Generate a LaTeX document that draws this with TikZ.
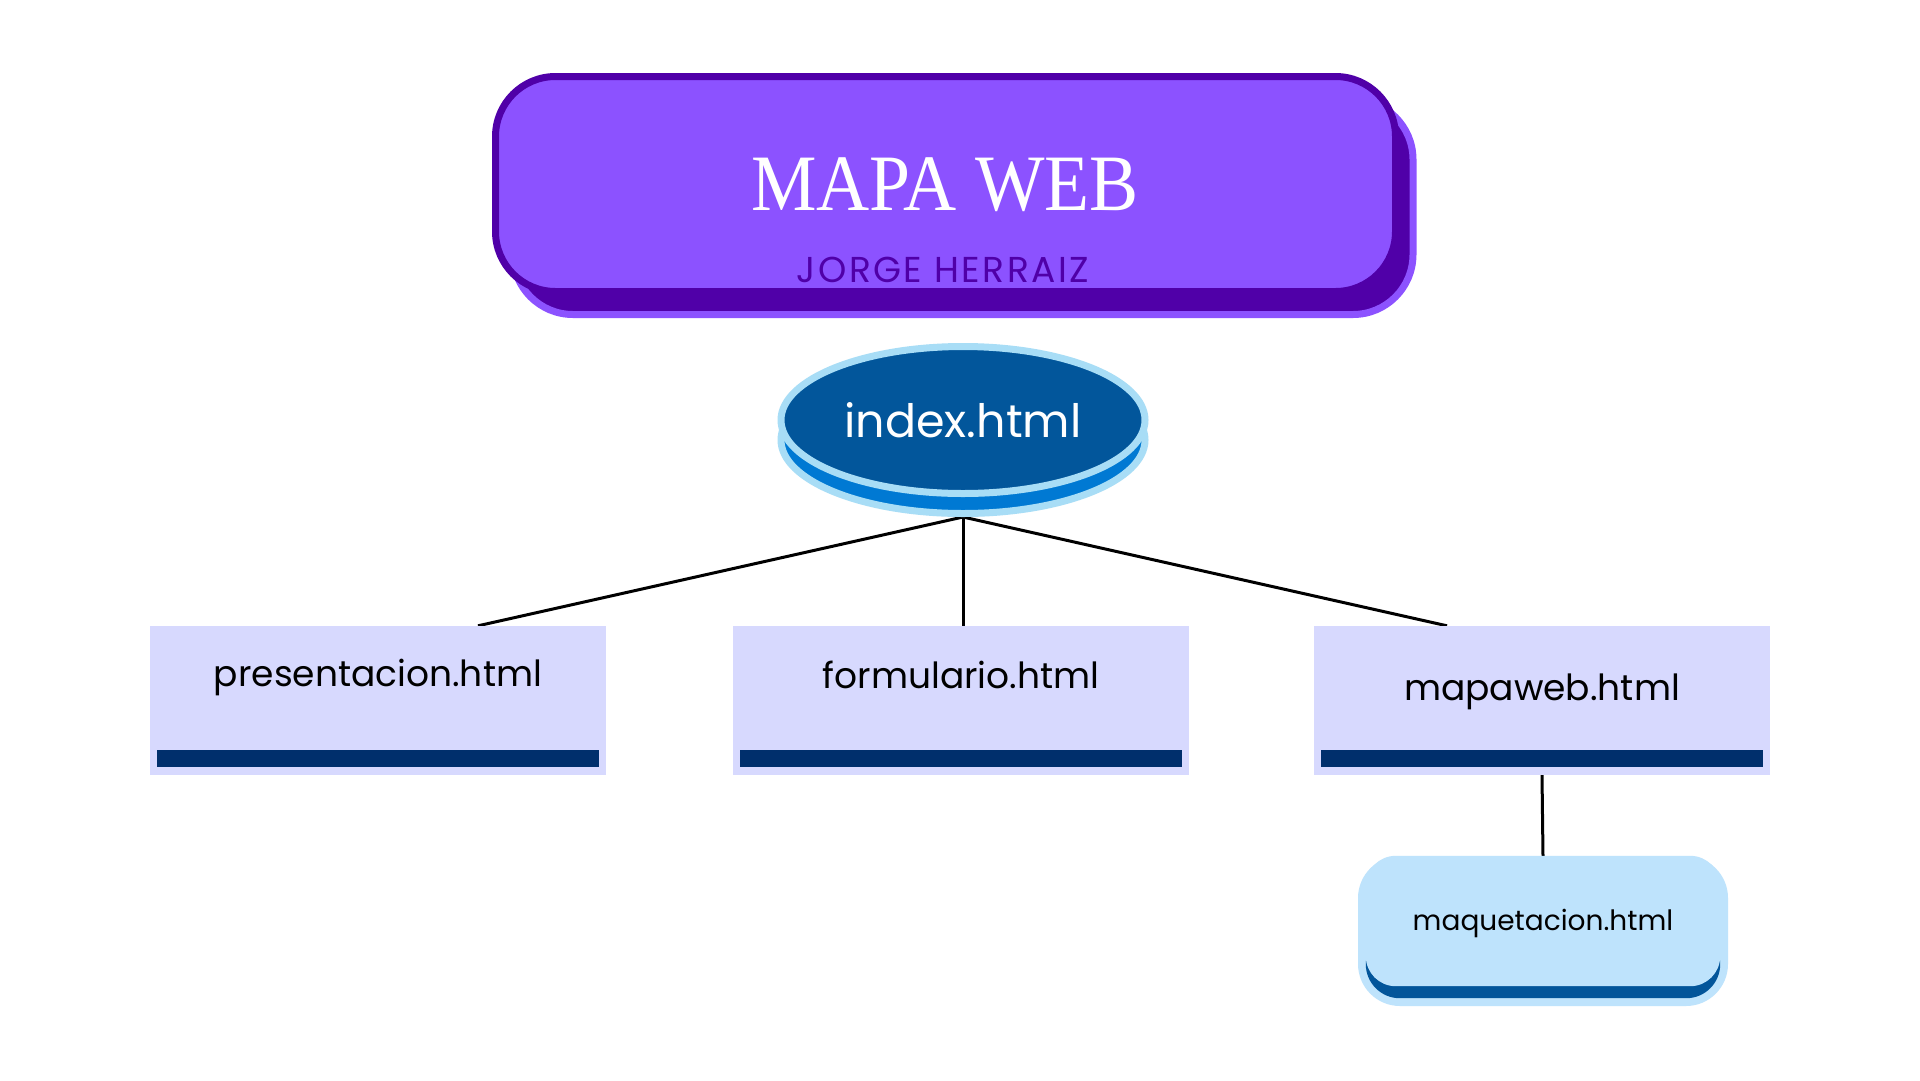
\documentclass[tikz,border=0pt]{standalone}
\usepackage{fontspec}
\setmainfont{Poppins}
\newfontfamily\titlefont[FakeStretch=0.92]{Liberation Serif}
\newfontfamily\autorfont[LetterSpace=7]{Poppins}
\usetikzlibrary{shapes,backgrounds,positioning}

\definecolor{lila}{HTML}{8C52FF}
\definecolor{morado}{HTML}{5000A8}
\definecolor{celeste}{HTML}{A8DDF6}
\definecolor{azul}{HTML}{0079D3}
\definecolor{azulosc}{HTML}{02569B}
\definecolor{lavanda}{HTML}{D7D9FE}
\definecolor{marino}{HTML}{002F6C}
\definecolor{cielo}{HTML}{BEE3FC}
\definecolor{franja}{HTML}{02559A}

\tikzset{
  titlebox/.style={rectangle,rounded corners=60pt,minimum width=900pt,minimum height=215pt,line width=7pt,inner sep=0pt},
  disco/.style={ellipse,draw=celeste,line width=7pt,minimum width=364pt,minimum height=147pt,inner sep=0pt},
  pagebox/.style={rectangle,fill=lavanda,minimum width=456pt,minimum height=149pt,inner sep=0pt},
  bar/.style={fill=marino},
  link/.style={draw=black,line width=3pt},
  lbl/.style={anchor=base,inner sep=0pt,font=\fontsize{36}{40}\selectfont}
}

\begin{document}
\begin{tikzpicture}[x=1pt,y=-1pt]
  \useasboundingbox (0,0) rectangle (1920,1080);
  % titulo
  \node[titlebox,draw=lila,fill=morado] (tback) at (963,207) {};
  \node[titlebox,draw=morado,fill=lila] (tfront) at (945.5,184) {};
  \node[anchor=base,inner sep=0pt,text=white,font=\titlefont\fontsize{80}{90}\selectfont] (titulo) at (945,210) {MAPA WEB};
  \node[anchor=base,inner sep=0pt,text=morado,font=\autorfont\fontsize{36}{40}\selectfont] (autor) at (943,282) {JORGE HERRAIZ};
  % index
  \node[disco,fill=azul] (idx) at (963,440) {};
  \node[disco,fill=azulosc] (idxtop) at (963,420) {};
  \node[anchor=base,inner sep=0pt,text=white,font=\fontsize{46}{50}\selectfont] (idx-t) at (963,437) {index.html};
  % paginas
  \foreach \n/\x/\y/\t in {pres/378/686/presentacion.html, form/961/688/formulario.html, map/1542/700/mapaweb.html}{
    \node[pagebox] (\n) at (\x,700.5) {};
    \fill[bar] ([xshift=7pt,yshift=8pt]\n.south west) rectangle ([xshift=-7pt,yshift=25pt]\n.south east);
    \node[lbl] (\n-t) at (\x,\y) {\t};
  }
  % maquetacion
  \node[rectangle,rounded corners=42pt,fill=cielo,minimum width=370pt,minimum height=150pt,inner sep=0pt] (maq) at (1543,931) {};
  \fill[franja,rounded corners=34pt] ([xshift=8pt,yshift=8pt]maq.south west) rectangle ([xshift=-8pt,yshift=76pt]maq.south east);
  \fill[cielo,rounded corners=30pt] ([xshift=8pt,yshift=20pt]maq.south west) rectangle ([xshift=-8pt]maq.north east);
  \node[anchor=base,inner sep=0pt,font=\fontsize{28}{32}\selectfont] (maq-t) at (1543,930) {maquetacion.html};
  % enlaces
  \begin{scope}[on background layer]
    \fill[white] (0,0) rectangle (1920,1080);
    \draw[link] (idx.south) -- ([xshift=100pt]pres.north);
    \draw[link] (idx.south) -- (idx.south |- form.north);
    \draw[link] (idx.south) -- ([xshift=-95pt]map.north);
    \draw[link] (map.south) -- (maq.north);
  \end{scope}
\end{tikzpicture}
\end{document}
